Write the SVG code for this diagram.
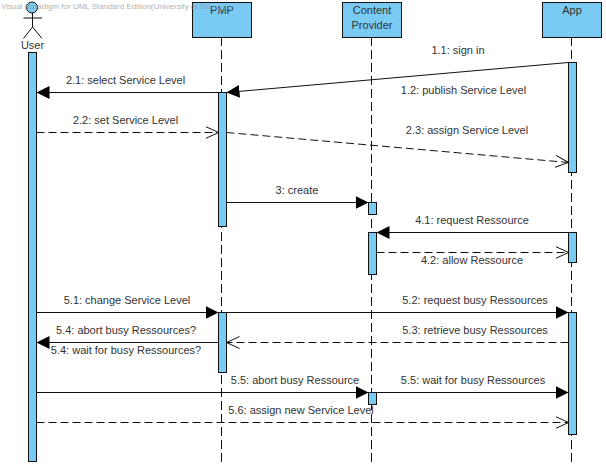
<svg xmlns="http://www.w3.org/2000/svg" width="606" height="466" viewBox="0 0 606 466">
<style>
text{font-family:"Liberation Sans",Arial,sans-serif;font-size:11px;fill:#333;text-anchor:middle}
.wm{font-size:8px;fill:#999;text-anchor:start;opacity:.75}
.fade{fill:#7ACBF3}
.box,.act,.head{fill:#7ACBF3;stroke:#111;stroke-width:1}
.life{stroke:#111;stroke-width:1;stroke-dasharray:9 4;fill:none}
.m{stroke:#111;stroke-width:1;fill:none;marker-end:url(#fill)}
.r{stroke:#111;stroke-width:1;fill:none;stroke-dasharray:8 4;marker-end:url(#open)}
.sk{stroke:#111;stroke-width:1;fill:none}
</style>
<defs>
<marker id="fill" markerUnits="userSpaceOnUse" markerWidth="14" markerHeight="14" refX="13" refY="6.5" orient="auto"><path d="M0,0L13,6.5L0,13Z" fill="#000"/></marker>
<marker id="open" markerUnits="userSpaceOnUse" markerWidth="15" markerHeight="15" refX="13" refY="7" orient="auto"><path d="M0,1L13,7L0,13" fill="none" stroke="#111"/></marker>
</defs>
<rect width="606" height="466" fill="#fff"/>
<g id="lifelines">
<path class="life" d="M221.5 37V466"/>
<path class="life" d="M371.5 37V466"/>
<path class="life" d="M571.5 37V466"/>
</g>
<g id="User">
<circle class="head" cx="32" cy="7.500" r="5.500"/>
<path class="sk" d="M32.500 13V27M23.500 18H42M32.500 27L23.500 38.500M32.500 27L42 38.500"/>
<text x="32.500" y="49">User</text>
<rect class="act" x="28.500" y="52.500" width="8" height="409"/>
</g>
<g id="PMP">
<rect class="box" x="192.500" y="2.500" width="59" height="35"/>
<text x="222" y="14">PMP</text>
<rect class="act" x="218.500" y="92.500" width="8" height="134"/>
<rect class="act" x="218.500" y="312.500" width="8" height="60"/>
</g>
<g id="ContentProvider">
<rect class="box" x="342.500" y="2.500" width="59" height="35"/>
<text x="372" y="14">Content</text>
<text x="372" y="29">Provider</text>
<rect class="act" x="368.500" y="202.500" width="8" height="12"/>
<rect class="act" x="368.500" y="232.500" width="8" height="42"/>
<rect class="act" x="368.500" y="392.500" width="8" height="12"/>
</g>
<g id="App">
<rect class="box" x="542.500" y="2.500" width="59" height="35"/>
<text x="572" y="14">App</text>
<rect class="act" x="568.500" y="62.500" width="8" height="110"/>
<rect class="act" x="568.500" y="232.500" width="8" height="30"/>
<rect class="act" x="568.500" y="312.500" width="8" height="122"/>
</g>
<g id="connectors">
<path class="m" d="M568.500 62.500L226.500 92.500"/>
<path class="m" d="M218.500 92.500H36.500"/>
<path class="r" d="M36.500 132.500H218.500"/>
<path class="r" d="M226.500 132.500L568.500 162.500"/>
<path class="m" d="M226.500 202.500H368.500"/>
<path class="m" d="M568.500 232.500H376.500"/>
<path class="r" d="M376.500 252.500H568.500"/>
<path class="m" d="M36.500 312.500H218.500"/>
<path class="m" d="M226.500 312.500H568.500"/>
<path class="r" d="M568.500 342.500H226.500"/>
<path class="m" d="M218.500 342.500H36.500"/>
<path class="m" d="M36.500 392.500H368.500"/>
<path class="m" d="M376.500 392.500H568.500"/>
<path class="r" d="M36.500 422.500H568.500"/>
</g>
<g id="labels">
<text x="458" y="54">1.1: sign in</text>
<text x="463.500" y="94">1.2: publish Service Level</text>
<text x="125.500" y="84">2.1: select Service Level</text>
<text x="125.500" y="124">2.2: set Service Level</text>
<text x="467" y="134">2.3: assign Service Level</text>
<text x="297" y="194">3: create</text>
<text x="472" y="224">4.1: request Ressource</text>
<text x="472" y="264">4.2: allow Ressource</text>
<text x="127" y="304">5.1: change Service Level</text>
<text x="475" y="304">5.2: request busy Ressources</text>
<text x="475" y="334">5.3: retrieve busy Ressources</text>
<text x="126" y="334">5.4: abort busy Ressources?</text>
<text x="126" y="354">5.4: wait for busy Ressources?</text>
<text x="295" y="384">5.5: abort busy Ressource</text>
<text x="473" y="384">5.5: wait for busy Ressources</text>
<text x="301" y="414">5.6: assign new Service Level</text>
</g>
<text class="wm" x="1" y="9">Visual Paradigm for UML Standard Edition(University of Stu<tspan class="fade">ttgart)</tspan></text>
</svg>
